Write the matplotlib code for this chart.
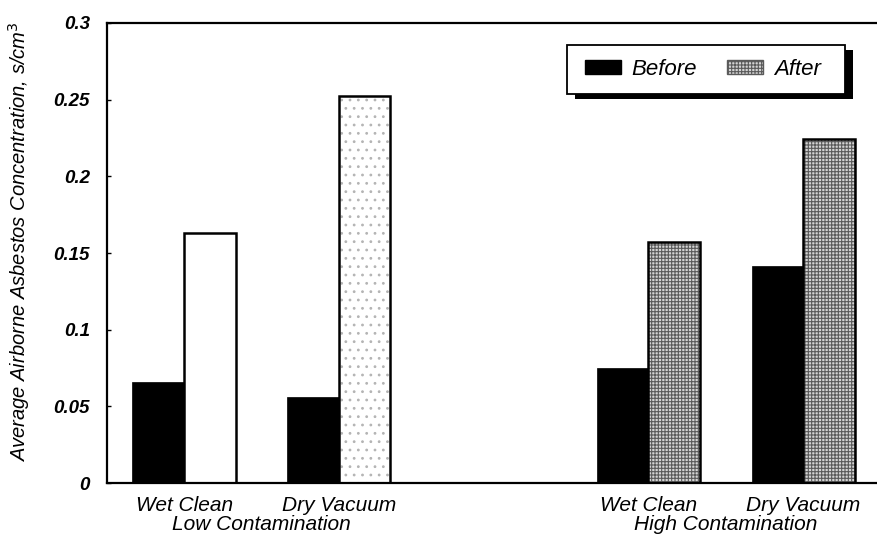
import matplotlib.pyplot as plt
from matplotlib.patches import Patch, Rectangle
from matplotlib.transforms import blended_transform_factory

# values (s/cm^3)
methods = ["Wet Clean", "Dry Vacuum", "Wet Clean", "Dry Vacuum"]
groups = ["Low Contamination", "High Contamination"]
before = [0.066, 0.056, 0.075, 0.1415]
after = [0.163, 0.2525, 0.157, 0.2245]
yticks = [0, 0.05, 0.1, 0.15, 0.2, 0.25, 0.3]
ytick_labels = ["0", "0.05", "0.1", "0.15", "0.2", "0.25", "0.3"]

plt.rcParams['font.family'] = ['Liberation Sans', 'DejaVu Sans']
plt.rcParams['hatch.linewidth'] = 0.8

# pair boundaries, in bar-width units
pos = [1.5, 4.5, 10.5, 13.5]
w = 1.0

# fill style of each "after" bar: (face, hatch, hatch colour)
after_style = [("white", None, None),
               ("white", "..", "#b4b4b4"),
               ("#d4d4d4", "+++++", "#5a5a5a"),
               ("#d4d4d4", "+++++", "#5a5a5a")]

fig = plt.figure(figsize=(8.78, 5.41), dpi=100)
ax = fig.add_axes([0.1215, 0.107, 0.8785, 0.8505])

ax.bar([p - w / 2 for p in pos], before, width=w, color="black",
       edgecolor="black", linewidth=0.5, zorder=2)
for p, v, (fc, h, hc) in zip(pos, after, after_style):
    ax.bar(p + w / 2, v, width=w, color=fc, hatch=h,
           edgecolor=hc if hc else fc, linewidth=0, zorder=2)
    ax.bar(p + w / 2, v, width=w, fill=False, edgecolor="black",
           linewidth=1.8, zorder=3)

ax.set_xlim(0, 14.95)
ax.set_ylim(0, 0.3)
ax.set_yticks(yticks)
ax.set_yticklabels(ytick_labels, fontsize=13.5, fontweight="bold",
                   fontstyle="italic")
ax.tick_params(axis="y", direction="in", length=3, width=1, pad=12)
ax.set_xticks(pos)
ax.set_xticklabels(methods, fontsize=15, fontstyle="italic")
ax.tick_params(axis="x", length=0, pad=9)

for s in ["left", "bottom", "top"]:
    ax.spines[s].set_linewidth(1.6)
ax.spines["right"].set_visible(False)

trans = blended_transform_factory(ax.transData, ax.transAxes)
for i, g in enumerate(groups):
    mid = (pos[2 * i] + pos[2 * i + 1]) / 2
    ax.text(mid, -0.09, g, transform=trans, ha="center", va="center",
            fontsize=15, fontstyle="italic")

ax.set_ylabel("Average Airborne Asbestos Concentration, s/cm$^3$",
              fontsize=14.5, fontstyle="italic")
ax.yaxis.set_label_coords(-0.097, 0.524)

# legend box with a hard black drop shadow (pixel coords of the scan)
W, H = 878, 541
bx0, bx1, by0, by1 = 567, 845, 45, 94
box = Rectangle((bx0 / W, 1 - by1 / H), (bx1 - bx0) / W, (by1 - by0) / H,
                transform=fig.transFigure, facecolor="white",
                edgecolor="black", linewidth=1.3, zorder=5)
shadow = Rectangle(((bx0 + 8) / W, 1 - (by1 + 5) / H), (bx1 - bx0) / W,
                   (by1 - by0) / H, transform=fig.transFigure,
                   facecolor="black", edgecolor="none", zorder=4)
fig.add_artist(shadow)
fig.add_artist(box)

handles = [Patch(facecolor="black", edgecolor="black", label="Before"),
           Patch(facecolor="#d4d4d4", edgecolor="#5a5a5a", hatch="+++++",
                 label="After")]
leg = fig.legend(handles=handles, loc="center left", ncol=2,
                 bbox_to_anchor=(585 / W, 1 - 69 / H), frameon=False,
                 prop={"size": 16, "style": "italic"},
                 handlelength=1.6, handleheight=0.6, handletextpad=0.5,
                 columnspacing=1.35, borderpad=0, borderaxespad=0)
leg.set_zorder(6)

fig.savefig("out.png", dpi=100)
